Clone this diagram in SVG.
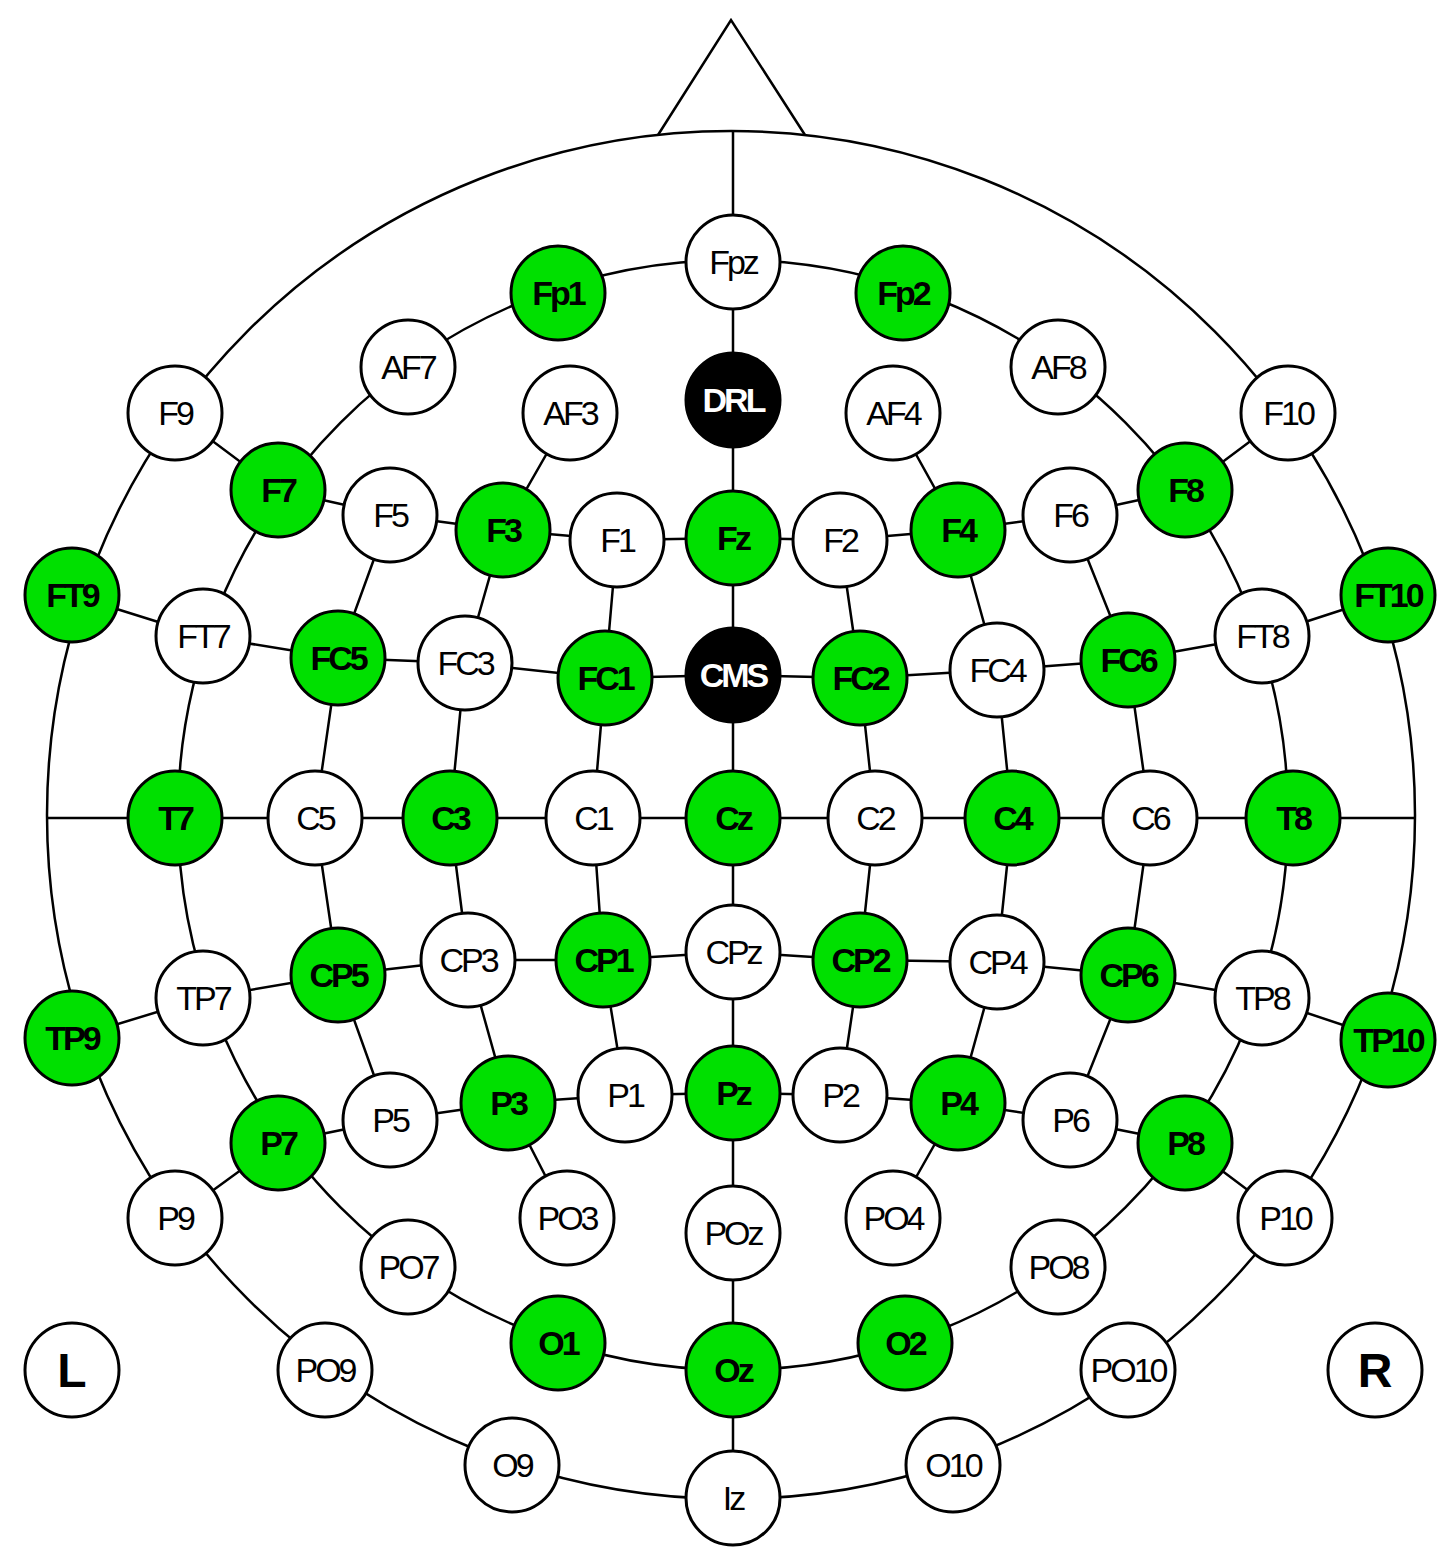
<svg xmlns="http://www.w3.org/2000/svg" width="1453" height="1563" viewBox="0 0 1453 1563">
<style>
.w{fill:#fff;stroke:#000;stroke-width:3}
.g{fill:#00e000;stroke:#000;stroke-width:3}
.b{fill:#000;stroke:#000;stroke-width:3}
.ln{fill:none;stroke:#000;stroke-width:2.5}
text{font-family:"Liberation Sans",Arial,sans-serif;font-size:34px;text-anchor:middle;dominant-baseline:central;letter-spacing:-3px}
.tw{fill:#000}
.tg{fill:#000;font-weight:bold}
.tb{fill:#fff;font-weight:bold}
.big{font-size:48px;font-weight:bold;letter-spacing:0}
</style>
<rect width="1453" height="1563" fill="#fff"/>
<g id="connectors" class="ln">
<path d="M658,135 L731,20 L805,135"/>
<circle cx="731" cy="815" r="684"/>
<circle cx="733" cy="815" r="555"/>
<line x1="733" y1="131" x2="733" y2="1498"/>
<line x1="47" y1="818" x2="1416" y2="818"/>
<polyline points="175,413 278,490 390,515 503,530 617,540 733,538 840,540 958,530 1070,515 1185,490 1288,413"/>
<polyline points="72,595 203,636 338,658 465,663 605,678 733,675 860,678 997,670 1128,660 1262,636 1388,595"/>
<polyline points="72,1038 203,998 338,975 468,960 603,960 733,952 860,960 997,962 1128,975 1262,998 1388,1040"/>
<polyline points="175,1218 278,1143 390,1120 508,1103 625,1095 733,1093 840,1095 958,1103 1070,1120 1185,1143 1285,1218"/>
<polyline points="570,413 503,530 465,663 450,818 468,960 508,1103 567,1218"/>
<polyline points="893,413 958,530 997,670 1012,818 997,962 958,1103 893,1218"/>
<polyline points="617,540 605,678 593,818 603,960 625,1095"/>
<polyline points="840,540 860,678 875,818 860,960 840,1095"/>
<polyline points="390,515 338,658 315,818 338,975 390,1120"/>
<polyline points="1070,515 1128,660 1150,818 1128,975 1070,1120"/>
</g>
<g id="nodes">
<g id="n-Fpz"><circle class="w" cx="733" cy="262" r="47"/><text class="tw" x="733" y="262">Fpz</text></g>
<g id="n-Fp1"><circle class="g" cx="558" cy="293" r="47"/><text class="tg" x="558" y="293">Fp1</text></g>
<g id="n-Fp2"><circle class="g" cx="903" cy="293" r="47"/><text class="tg" x="903" y="293">Fp2</text></g>
<g id="n-AF7"><circle class="w" cx="408" cy="367" r="47"/><text class="tw" x="408" y="367">AF7</text></g>
<g id="n-AF8"><circle class="w" cx="1058" cy="367" r="47"/><text class="tw" x="1058" y="367">AF8</text></g>
<g id="n-F9"><circle class="w" cx="175" cy="413" r="47"/><text class="tw" x="175" y="413">F9</text></g>
<g id="n-F10"><circle class="w" cx="1288" cy="413" r="47"/><text class="tw" x="1288" y="413">F10</text></g>
<g id="n-DRL"><circle class="b" cx="733" cy="400" r="47"/><text class="tb" x="733" y="400">DRL</text></g>
<g id="n-AF3"><circle class="w" cx="570" cy="413" r="47"/><text class="tw" x="570" y="413">AF3</text></g>
<g id="n-AF4"><circle class="w" cx="893" cy="413" r="47"/><text class="tw" x="893" y="413">AF4</text></g>
<g id="n-F7"><circle class="g" cx="278" cy="490" r="47"/><text class="tg" x="278" y="490">F7</text></g>
<g id="n-F8"><circle class="g" cx="1185" cy="490" r="47"/><text class="tg" x="1185" y="490">F8</text></g>
<g id="n-F5"><circle class="w" cx="390" cy="515" r="47"/><text class="tw" x="390" y="515">F5</text></g>
<g id="n-F6"><circle class="w" cx="1070" cy="515" r="47"/><text class="tw" x="1070" y="515">F6</text></g>
<g id="n-F3"><circle class="g" cx="503" cy="530" r="47"/><text class="tg" x="503" y="530">F3</text></g>
<g id="n-F4"><circle class="g" cx="958" cy="530" r="47"/><text class="tg" x="958" y="530">F4</text></g>
<g id="n-F1"><circle class="w" cx="617" cy="540" r="47"/><text class="tw" x="617" y="540">F1</text></g>
<g id="n-Fz"><circle class="g" cx="733" cy="538" r="47"/><text class="tg" x="733" y="538">Fz</text></g>
<g id="n-F2"><circle class="w" cx="840" cy="540" r="47"/><text class="tw" x="840" y="540">F2</text></g>
<g id="n-FT9"><circle class="g" cx="72" cy="595" r="47"/><text class="tg" x="72" y="595">FT9</text></g>
<g id="n-FT10"><circle class="g" cx="1388" cy="595" r="47"/><text class="tg" x="1388" y="595">FT10</text></g>
<g id="n-FT7"><circle class="w" cx="203" cy="636" r="47"/><text class="tw" x="203" y="636">FT7</text></g>
<g id="n-FT8"><circle class="w" cx="1262" cy="636" r="47"/><text class="tw" x="1262" y="636">FT8</text></g>
<g id="n-FC5"><circle class="g" cx="338" cy="658" r="47"/><text class="tg" x="338" y="658">FC5</text></g>
<g id="n-FC6"><circle class="g" cx="1128" cy="660" r="47"/><text class="tg" x="1128" y="660">FC6</text></g>
<g id="n-FC3"><circle class="w" cx="465" cy="663" r="47"/><text class="tw" x="465" y="663">FC3</text></g>
<g id="n-FC4"><circle class="w" cx="997" cy="670" r="47"/><text class="tw" x="997" y="670">FC4</text></g>
<g id="n-FC1"><circle class="g" cx="605" cy="678" r="47"/><text class="tg" x="605" y="678">FC1</text></g>
<g id="n-CMS"><circle class="b" cx="733" cy="675" r="47"/><text class="tb" x="733" y="675">CMS</text></g>
<g id="n-FC2"><circle class="g" cx="860" cy="678" r="47"/><text class="tg" x="860" y="678">FC2</text></g>
<g id="n-T7"><circle class="g" cx="175" cy="818" r="47"/><text class="tg" x="175" y="818">T7</text></g>
<g id="n-C5"><circle class="w" cx="315" cy="818" r="47"/><text class="tw" x="315" y="818">C5</text></g>
<g id="n-C3"><circle class="g" cx="450" cy="818" r="47"/><text class="tg" x="450" y="818">C3</text></g>
<g id="n-C1"><circle class="w" cx="593" cy="818" r="47"/><text class="tw" x="593" y="818">C1</text></g>
<g id="n-Cz"><circle class="g" cx="733" cy="818" r="47"/><text class="tg" x="733" y="818">Cz</text></g>
<g id="n-C2"><circle class="w" cx="875" cy="818" r="47"/><text class="tw" x="875" y="818">C2</text></g>
<g id="n-C4"><circle class="g" cx="1012" cy="818" r="47"/><text class="tg" x="1012" y="818">C4</text></g>
<g id="n-C6"><circle class="w" cx="1150" cy="818" r="47"/><text class="tw" x="1150" y="818">C6</text></g>
<g id="n-T8"><circle class="g" cx="1293" cy="818" r="47"/><text class="tg" x="1293" y="818">T8</text></g>
<g id="n-TP7"><circle class="w" cx="203" cy="998" r="47"/><text class="tw" x="203" y="998">TP7</text></g>
<g id="n-TP8"><circle class="w" cx="1262" cy="998" r="47"/><text class="tw" x="1262" y="998">TP8</text></g>
<g id="n-TP9"><circle class="g" cx="72" cy="1038" r="47"/><text class="tg" x="72" y="1038">TP9</text></g>
<g id="n-TP10"><circle class="g" cx="1388" cy="1040" r="47"/><text class="tg" x="1388" y="1040">TP10</text></g>
<g id="n-CP5"><circle class="g" cx="338" cy="975" r="47"/><text class="tg" x="338" y="975">CP5</text></g>
<g id="n-CP3"><circle class="w" cx="468" cy="960" r="47"/><text class="tw" x="468" y="960">CP3</text></g>
<g id="n-CP1"><circle class="g" cx="603" cy="960" r="47"/><text class="tg" x="603" y="960">CP1</text></g>
<g id="n-CPz"><circle class="w" cx="733" cy="952" r="47"/><text class="tw" x="733" y="952">CPz</text></g>
<g id="n-CP2"><circle class="g" cx="860" cy="960" r="47"/><text class="tg" x="860" y="960">CP2</text></g>
<g id="n-CP4"><circle class="w" cx="997" cy="962" r="47"/><text class="tw" x="997" y="962">CP4</text></g>
<g id="n-CP6"><circle class="g" cx="1128" cy="975" r="47"/><text class="tg" x="1128" y="975">CP6</text></g>
<g id="n-P7"><circle class="g" cx="278" cy="1143" r="47"/><text class="tg" x="278" y="1143">P7</text></g>
<g id="n-P8"><circle class="g" cx="1185" cy="1143" r="47"/><text class="tg" x="1185" y="1143">P8</text></g>
<g id="n-P5"><circle class="w" cx="390" cy="1120" r="47"/><text class="tw" x="390" y="1120">P5</text></g>
<g id="n-P6"><circle class="w" cx="1070" cy="1120" r="47"/><text class="tw" x="1070" y="1120">P6</text></g>
<g id="n-P3"><circle class="g" cx="508" cy="1103" r="47"/><text class="tg" x="508" y="1103">P3</text></g>
<g id="n-P1"><circle class="w" cx="625" cy="1095" r="47"/><text class="tw" x="625" y="1095">P1</text></g>
<g id="n-Pz"><circle class="g" cx="733" cy="1093" r="47"/><text class="tg" x="733" y="1093">Pz</text></g>
<g id="n-P2"><circle class="w" cx="840" cy="1095" r="47"/><text class="tw" x="840" y="1095">P2</text></g>
<g id="n-P4"><circle class="g" cx="958" cy="1103" r="47"/><text class="tg" x="958" y="1103">P4</text></g>
<g id="n-P9"><circle class="w" cx="175" cy="1218" r="47"/><text class="tw" x="175" y="1218">P9</text></g>
<g id="n-P10"><circle class="w" cx="1285" cy="1218" r="47"/><text class="tw" x="1285" y="1218">P10</text></g>
<g id="n-PO3"><circle class="w" cx="567" cy="1218" r="47"/><text class="tw" x="567" y="1218">PO3</text></g>
<g id="n-PO4"><circle class="w" cx="893" cy="1218" r="47"/><text class="tw" x="893" y="1218">PO4</text></g>
<g id="n-POz"><circle class="w" cx="733" cy="1233" r="47"/><text class="tw" x="733" y="1233">POz</text></g>
<g id="n-PO7"><circle class="w" cx="408" cy="1267" r="47"/><text class="tw" x="408" y="1267">PO7</text></g>
<g id="n-PO8"><circle class="w" cx="1058" cy="1267" r="47"/><text class="tw" x="1058" y="1267">PO8</text></g>
<g id="n-O1"><circle class="g" cx="558" cy="1343" r="47"/><text class="tg" x="558" y="1343">O1</text></g>
<g id="n-O2"><circle class="g" cx="905" cy="1343" r="47"/><text class="tg" x="905" y="1343">O2</text></g>
<g id="n-Oz"><circle class="g" cx="733" cy="1370" r="47"/><text class="tg" x="733" y="1370">Oz</text></g>
<g id="n-PO9"><circle class="w" cx="325" cy="1370" r="47"/><text class="tw" x="325" y="1370">PO9</text></g>
<g id="n-PO10"><circle class="w" cx="1128" cy="1370" r="47"/><text class="tw" x="1128" y="1370">PO10</text></g>
<g id="n-O9"><circle class="w" cx="512" cy="1465" r="47"/><text class="tw" x="512" y="1465">O9</text></g>
<g id="n-O10"><circle class="w" cx="953" cy="1465" r="47"/><text class="tw" x="953" y="1465">O10</text></g>
<g id="n-Iz"><circle class="w" cx="733" cy="1498" r="47"/><text class="tw" x="733" y="1498">Iz</text></g>
<g id="n-L"><circle class="w" cx="72" cy="1370" r="47"/><text class="big" x="72" y="1370">L</text></g>
<g id="n-R"><circle class="w" cx="1375" cy="1370" r="47"/><text class="big" x="1375" y="1370">R</text></g>
</g>
</svg>
